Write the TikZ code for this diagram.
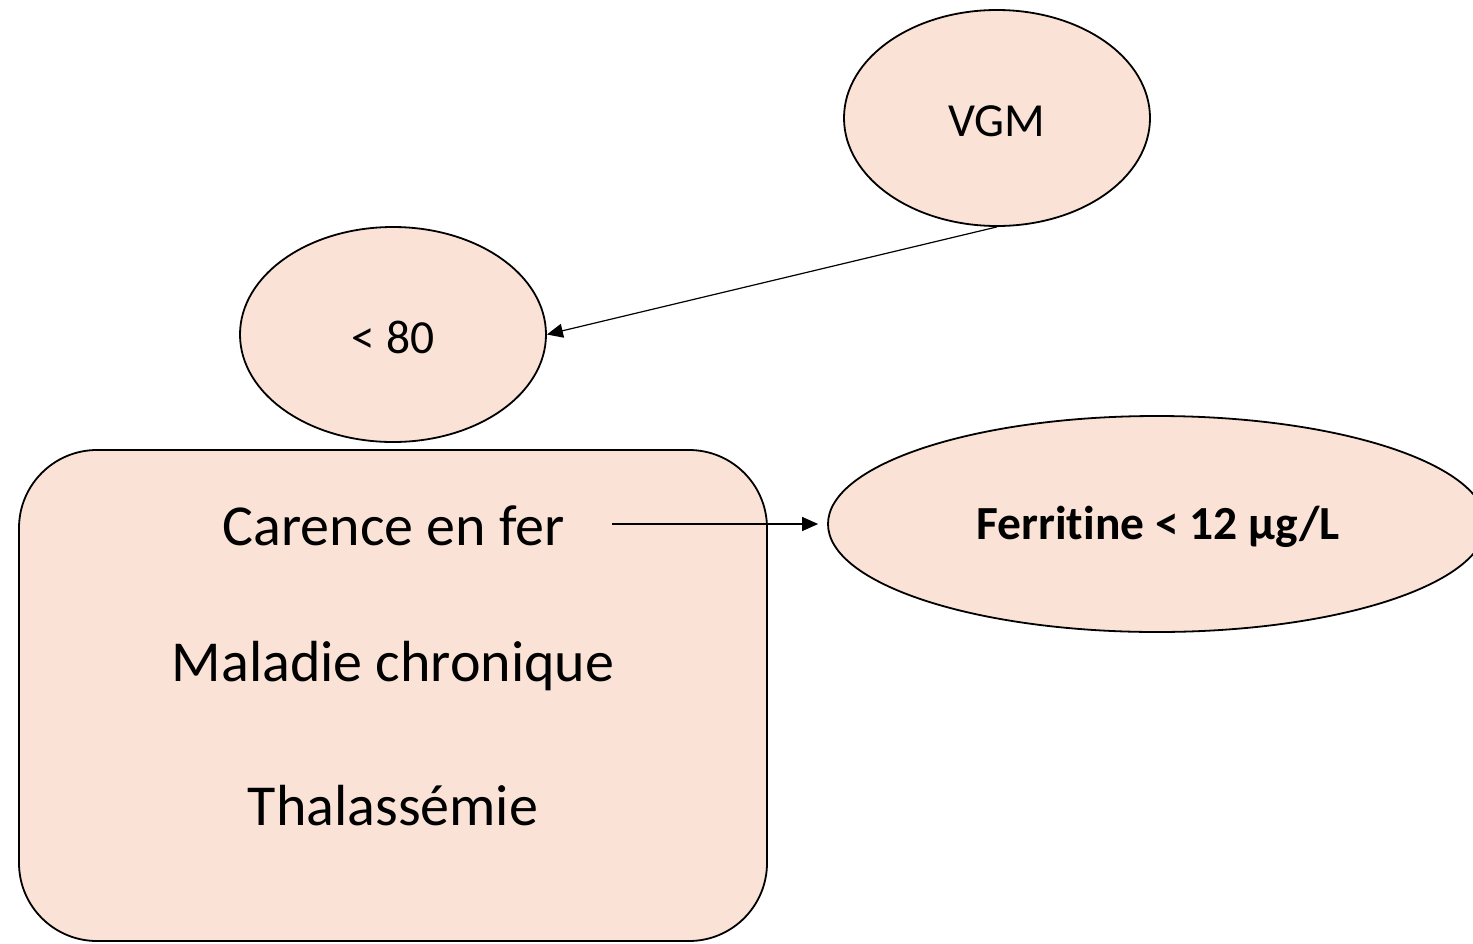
\documentclass[tikz,border=0pt]{standalone}
\usepackage{fontspec}
\setmainfont{Carlito}[Ligatures={NoCommon,NoDiscretionary,NoRare}]
\usetikzlibrary{shapes.geometric,arrows.meta}
\definecolor{peach}{HTML}{FAE3D6}
\begin{document}
\begin{tikzpicture}[x=1pt,y=-1pt,
  oval/.style={ellipse,draw=black,fill=peach,line width=1.8pt,inner sep=0pt},
  panel/.style={rectangle,rounded corners=78pt,draw=black,fill=peach,line width=1.8pt,inner sep=0pt},
  label/.style={inner sep=0pt,font=\fontsize{58}{60}\selectfont},
  small/.style={font=\fontsize{47.5}{50}\selectfont},
  link/.style={line width=1.2pt,-{Triangle[length=16pt,width=14pt]}}]
\useasboundingbox (0,0) rectangle (1473,943);
\clip (0,0) rectangle (1473,943);

\node[oval,minimum width=306pt,minimum height=216pt] (vgm) at (997,118) {};
\node[oval,minimum width=306pt,minimum height=215pt] (lt) at (393,334.5) {};
\node[oval,minimum width=658pt,minimum height=216pt] (fer) at (1157,524) {};
\node[small,inner sep=0pt] (vgmt) at (997,121) {VGM};
\node[small,inner sep=0pt] (ltt) at (393,337) {< 80};
\node[small,inner sep=0pt,font=\bfseries\fontsize{47.5}{50}\selectfont] (fert) at (1158,527) {Ferritine < 12 µg/L};

\node[panel,minimum width=748pt,minimum height=491pt] (box) at (393,695.5) {};
\node[label] (c1) at (393.5,526) {Carence en fer};
\node[label] (c2) at (393,666) {Maladie chronique};
\node[label] (c3) at (393,806) {Thalassémie};

\coordinate (start) at (612,524);
\draw[link] (vgm.south) -- (lt.east);
\draw[link,shorten >=9pt] (start) -- (fer.west);
\end{tikzpicture}
\end{document}
